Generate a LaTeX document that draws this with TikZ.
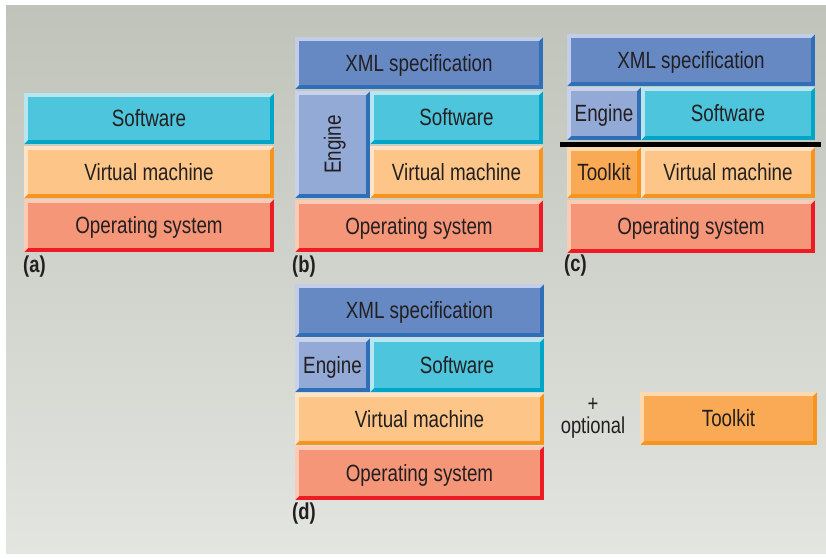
\documentclass[tikz,border=0pt]{standalone}
\usepackage{fontspec}
\setmainfont{Liberation Sans}[FakeStretch=0.8]
\definecolor{bgT}{HTML}{BFC3B9}
\definecolor{bgB}{HTML}{E2E5E0}
\definecolor{txt}{HTML}{231F20}
% Software (cyan)
\definecolor{swF}{HTML}{4DC5DC}
\definecolor{swL}{HTML}{B8E6F0}
\definecolor{swD}{HTML}{00A6C8}
% Virtual machine
\definecolor{vmF}{HTML}{FDC688}
\definecolor{vmL}{HTML}{FFE3C6}
\definecolor{vmD}{HTML}{F7941D}
% Operating system
\definecolor{osF}{HTML}{F69679}
\definecolor{osL}{HTML}{FBCBB6}
\definecolor{osD}{HTML}{ED1C24}
% XML specification
\definecolor{xmF}{HTML}{6689C3}
\definecolor{xmL}{HTML}{C2CDE8}
\definecolor{xmD}{HTML}{2E6FB7}
% Engine
\definecolor{enF}{HTML}{93A9D6}
\definecolor{enL}{HTML}{C8D2EB}
\definecolor{enD}{HTML}{2E6FB7}
% Toolkit
\definecolor{tkF}{HTML}{FAAA55}
\definecolor{tkL}{HTML}{FDD9B0}
\definecolor{tkD}{HTML}{F7941D}
\tikzset{
  boxtext/.style={text=txt, font=\fontsize{23.5}{26}\selectfont, inner sep=0pt,
    text height=16.8pt, text depth=0pt},
  panellabel/.style={text=txt, font=\bfseries\fontsize{23}{26}\selectfont, anchor=west, inner sep=0pt},
  sidetext/.style={text=txt, font=\fontsize{23}{22.5}\selectfont, align=center, inner sep=0pt},
  divider/.style={line width=5pt, black}
}
\newcommand\bevbox[8][]{% [node opts] name, x1, y1, x2, y2, colour prefix, text
  \fill[#7D] (#3,#4) rectangle (#5,#6);
  \fill[#7L] (#3,#4) -- (#5,#4) -- ({#5-4},{#4+4}) -- ({#3+4},{#4+4}) -- ({#3+4},{#6-4}) -- (#3,#6) -- cycle;
  \fill[#7F] ({#3+4},{#4+4}) rectangle ({#5-4},{#6-4});
  \node[boxtext,#1] (#2) at ({(#3+#5)/2},{(#4+#6)/2}) {#8};
}
\begin{document}
\begin{tikzpicture}[x=1pt,y=-1pt]
\useasboundingbox (0,0) rectangle (826,558);
\fill[white] (0,0) rectangle (826,558);
\shade[top color=bgT, bottom color=bgB] (6,5) rectangle (826,553);
% (a)
\bevbox{aSw}{24}{93}{274}{144}{sw}{Software}
\bevbox{aVm}{24}{146}{274}{198}{vm}{Virtual machine}
\bevbox{aOs}{24}{199}{274}{252}{os}{Operating system}
\node[panellabel] (la) at (23,267) {(a)};
% (b)
\bevbox{bXml}{295}{37}{543}{89}{xm}{XML specification}
\bevbox[rotate=90]{bEng}{295}{91}{370}{198}{en}{Engine}
\bevbox{bSw}{370}{91}{543}{144}{sw}{Software}
\bevbox{bVm}{370}{146}{543}{198}{vm}{Virtual machine}
\bevbox{bOs}{295}{200}{543}{252}{os}{Operating system}
\node[panellabel] (lb) at (292,267) {(b)};
% (c)
\bevbox{cXml}{567}{34}{815}{86}{xm}{XML specification}
\bevbox{cEng}{567}{87}{641}{140}{en}{Engine}
\bevbox{cSw}{641}{87}{815}{140}{sw}{Software}
\bevbox{cTk}{567}{147}{641}{198}{tk}{Toolkit}
\bevbox{cVm}{641}{147}{815}{198}{vm}{Virtual machine}
\bevbox{cOs}{567}{200}{815}{253}{os}{Operating system}
\coordinate (divL) at (560,144);
\coordinate (divR) at (821,144);
\draw[divider] (divL) -- (divR);
\node[panellabel] (lc) at (564,266) {(c)};
% (d)
\bevbox{dXml}{295}{284}{544}{337}{xm}{XML specification}
\bevbox{dEng}{295}{338}{370}{392}{en}{Engine}
\bevbox{dSw}{370}{338}{544}{392}{sw}{Software}
\bevbox{dVm}{295}{393}{544}{445}{vm}{Virtual machine}
\bevbox{dOs}{295}{446}{544}{500}{os}{Operating system}
\node[panellabel] (ld) at (292,514) {(d)};
% optional toolkit
\node[sidetext] (opt) at (593,418) {+\\optional};
\bevbox{oTk}{640}{392}{817}{445}{tk}{Toolkit}
\end{tikzpicture}
\end{document}
